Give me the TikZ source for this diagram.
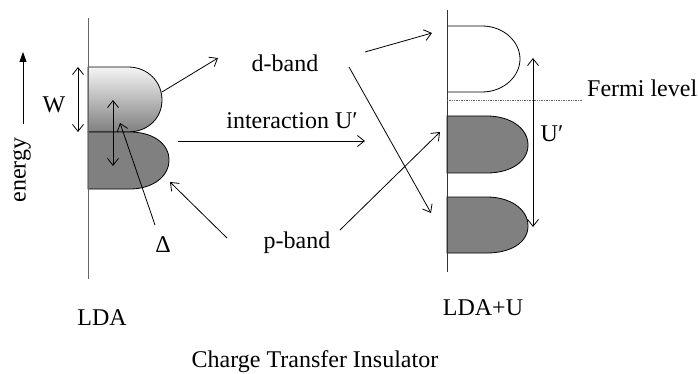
\documentclass[tikz,border=0pt]{standalone}
\usepackage{fontspec}
\setmainfont{Liberation Serif}
\usetikzlibrary{arrows.meta}
\begin{document}
\begin{tikzpicture}[x=1pt,y=-1pt,
  lbl/.style={font=\fontsize{24}{28}\selectfont, inner sep=0pt, anchor=base},
  arr/.style={line width=0.8pt, -{Straight Barb[length=7pt,width=11pt,line width=0.8pt]}},
  darr/.style={line width=0.8pt, {Straight Barb[length=7pt,width=11pt,line width=0.8pt]}-{Straight Barb[length=7pt,width=11pt,line width=0.8pt]}},
  band/.style={draw=black, line width=0.8pt}]
\useasboundingbox (0,0) rectangle (698,374);

% bands, left (LDA)
\path[band, top color=black!4, bottom color=black!50]
  (88,67) -- (128,67) .. controls (148,67) and (162,82) .. (162,100)
  .. controls (162,118) and (148,132) .. (128,132) -- (88,132) -- cycle;
\path[band, fill=black!50]
  (88,132) -- (130,132) .. controls (152,132) and (169,143) .. (169,160)
  .. controls (169,177) and (152,189) .. (130,189) -- (88,189) -- cycle;

% bands, right (LDA+U)
\path[band, fill=white]
  (447,26) -- (482,26) .. controls (504,26) and (520,42) .. (520,59)
  .. controls (520,76) and (504,92) .. (482,92) -- (447,92);
\path[band, fill=black!50]
  (447,116) -- (487,116) .. controls (510,116) and (528,128) .. (528,145)
  .. controls (528,162) and (510,173) .. (487,173) -- (447,173) -- cycle;
\path[band, fill=black!50]
  (447,197) -- (487,197) .. controls (510,197) and (528,209) .. (528,226)
  .. controls (528,243) and (510,253) .. (487,253) -- (447,253) -- cycle;

% axes
\draw[line width=1pt, black!60] (88,18) -- (88,279);
\draw[line width=1pt, black!80] (447,10) -- (447,272);
\draw[line width=0.7pt, black!60, densely dotted] (447,100) -- (583,100);

% energy arrow
\coordinate (e0) at (23,124);
\coordinate (e1) at (23,52);
\draw[line width=0.8pt, -{Triangle[length=10pt,width=7pt]}] (e0) -- (e1);
\node[font=\fontsize{24}{28}\selectfont, inner sep=0pt, rotate=90] (energy) at (22,170) {energy};

% labels
\node[lbl] (W) at (54,113) {W};
\node[lbl] (Delta) at (163,252) {Δ};
\node[lbl] (dband) at (285,72) {d-band};
\node[lbl] (inter) at (292,129) {interaction U′};
\node[lbl] (pband) at (297,248) {p-band};
\node[lbl] (Up) at (552,142) {U′};
\node[lbl, anchor=base west] (fermi) at (587,97) {Fermi level};
\node[lbl] (LDA) at (102,325) {LDA};
\node[lbl] (LDAU) at (483,315) {LDA+U};
\node[lbl] (CTI) at (315,367) {Charge Transfer Insulator};

% arrow end points
\coordinate (w0) at (78,67);   \coordinate (w1) at (78,132);
\coordinate (g0) at (113,100); \coordinate (g1) at (113,166);
\coordinate (u0) at (533,58);  \coordinate (u1) at (533,227);
\coordinate (a0) at (162,92);  \coordinate (a1) at (218,58);
\coordinate (b0) at (227,238); \coordinate (b1) at (170,182);
\coordinate (c0) at (155,225); \coordinate (c1) at (120,123);
\coordinate (i0) at (178,141); \coordinate (i1) at (365,141);
\coordinate (d0) at (365,52);  \coordinate (d1) at (432,33);
\coordinate (f0) at (349,67);  \coordinate (f1) at (431,213);
\coordinate (p0) at (340,230); \coordinate (p1) at (440,132);

\draw[darr] (w0) -- (w1);
\draw[darr] (g0) -- (g1);
\draw[darr] (u0) -- (u1);
\draw[arr] (a0) -- (a1);
\draw[arr] (b0) -- (b1);
\draw[arr] (c0) -- (c1);
\draw[arr] (i0) -- (i1);
\draw[arr] (d0) -- (d1);
\draw[arr] (f0) -- (f1);
\draw[arr] (p0) -- (p1);
\end{tikzpicture}
\end{document}
